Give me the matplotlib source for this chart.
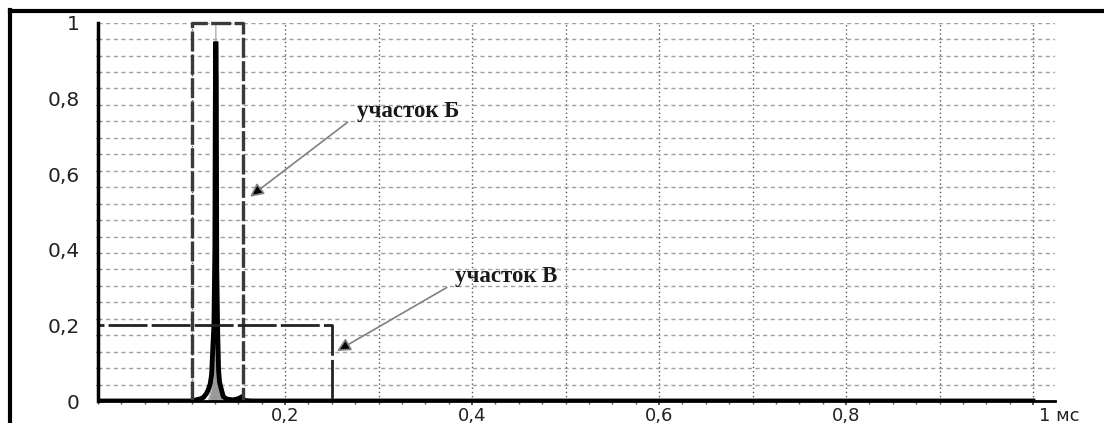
import numpy as np
import matplotlib
matplotlib.use("Agg")
import matplotlib.pyplot as plt
from matplotlib.lines import Line2D
from matplotlib.ticker import MultipleLocator, FixedLocator
import matplotlib.transforms as mtransforms

# ---- data ----
t_main = [0.000, 0.100, 0.105, 0.110, 0.113, 0.116, 0.118, 0.120, 0.1215, 0.123,
          0.124, 0.125, 0.1255, 0.126, 0.1265, 0.127, 0.128, 0.129, 0.130, 0.132,
          0.134, 0.137, 0.140, 0.145, 0.150, 0.153, 0.155, 0.158, 0.165, 1.000]
a_main = [0.000, 0.000, 0.003, 0.006, 0.010, 0.020, 0.030, 0.045, 0.070, 0.150,
          0.200, 0.400, 0.800, 0.950, 0.850, 0.350, 0.180, 0.080, 0.050, 0.030,
          0.012, 0.006, 0.004, 0.003, 0.006, 0.010, 0.004, 0.001, 0.000, 0.000]

t_env = [0.118, 0.121, 0.123, 0.125, 0.126, 0.127, 0.129, 0.131, 0.134]
a_env = [0.000, 0.030, 0.060, 0.300, 1.000, 0.300, 0.060, 0.030, 0.000]

# regions: (x0, x1, y_top)
region_B = (0.100, 0.155, 1.0)   # участок Б
region_V = (0.000, 0.250, 0.2)   # участок В

x_ticks = [0.2, 0.4, 0.6, 0.8, 1.0]
x_labels = ["0,2", "0,4", "0,6", "0,8", "1 мс"]
y_ticks = [0, 0.2, 0.4, 0.6, 0.8, 1.0]
y_labels = ["0", "0,2", "0,4", "0,6", "0,8", "1"]

label_B = "участок Б"
label_V = "участок В"

# ---- figure ----
W, H = 1104, 423
fig = plt.figure(figsize=(W / 100, H / 100), dpi=100)
fig.patch.set_facecolor("white")

left_px, right_px, top_px, bot_px = 98, 1055, 22.7, 401
ax = fig.add_axes([left_px / W, 1 - bot_px / H, (right_px - left_px) / W, (bot_px - top_px) / H])
ax.set_xlim(0, (right_px - left_px) / 935.0)
ax.set_ylim(0, 1)
ax.set_facecolor("white")

# grid
for gx in np.arange(0.1, 1.01, 0.1):
    ax.axvline(gx, color="#5a5a5a", lw=1.0, ls=(0, (1, 2)), zorder=1)
for gy in np.linspace(0, 1, 24)[1:]:
    ax.axhline(gy, color="#a0a0a0", lw=1.0, ls=(0, (3, 2.5)), zorder=1)

# signal
ax.fill_between(t_env, a_env, color="#9a9a9a", lw=0, zorder=3)
ax.plot(t_env, a_env, color="#b5b5b5", lw=1.0, zorder=3)
ax.plot(t_main, a_main, color="black", lw=3.5, zorder=4, solid_joinstyle="miter")

# region boxes
x0, x1, yt = region_B
ax.plot([x0, x0, x1, x1], [0, yt, yt, 0], color="#3a3a3a", lw=2.4,
        ls=(0, (6, 1.0)), zorder=5, clip_on=False)
x0, x1, yt = region_V
ax.plot([x0, x0, x1, x1], [0, yt, yt, 0], color="#222222", lw=2.0,
        ls=(0, (14, 1.5)), zorder=5, clip_on=False)

# annotations
arrow_kw = dict(arrowstyle="-|>", color="#808080", lw=1.2, mutation_scale=20,
                shrinkA=0, shrinkB=0, fc="black", ec="#808080")
ax.annotate("", xy=(0.1626, 0.540), xytext=(0.267, 0.737), arrowprops=arrow_kw, zorder=6)
ax.text(0.277, 0.765, label_B, fontsize=16.5, family="Liberation Serif", fontweight="bold",
        ha="left", va="center", color="#1a1a1a", zorder=6)
ax.annotate("", xy=(0.2556, 0.132), xytext=(0.373, 0.300), arrowprops=arrow_kw, zorder=6)
ax.text(0.382, 0.330, label_V, fontsize=16.5, family="Liberation Serif", fontweight="bold",
        ha="left", va="center", color="#1a1a1a", zorder=6)

# spines
for s in ["top", "right"]:
    ax.spines[s].set_visible(False)
ax.spines["left"].set_linewidth(2.5)
ax.spines["bottom"].set_linewidth(2.0)
ax.spines["left"].set_zorder(7)
ax.spines["bottom"].set_zorder(7)

ax.xaxis.set_major_locator(FixedLocator(x_ticks))
ax.set_xticklabels(x_labels)
ax.xaxis.set_minor_locator(MultipleLocator(0.025))
ax.yaxis.set_major_locator(FixedLocator(y_ticks))
ax.set_yticklabels(y_labels)
ax.yaxis.set_minor_locator(FixedLocator(list(np.linspace(0, 1, 24))))

ax.tick_params(axis="x", which="major", length=3, width=1.2, color="#333333",
               pad=1, labelsize=13, labelcolor="#222222", direction="out")
ax.tick_params(axis="x", which="minor", length=2.5, width=1.0, color="#555555", direction="out")
ax.tick_params(axis="y", which="major", length=0, pad=13, labelsize=14.5, labelcolor="#222222")
ax.tick_params(axis="y", which="minor", length=3, width=1.0, color="#333333", direction="inout")

# shift "1 мс" to the right of its tick
lbls = ax.get_xticklabels()
off = mtransforms.ScaledTranslation(6 / 100, 0, fig.dpi_scale_trans)
lbls[-1].set_horizontalalignment("left")
lbls[-1].set_transform(lbls[-1].get_transform() + off)

# outer frame
fig.add_artist(Line2D([10 / W, 1.0], [1 - 11.5 / H, 1 - 11.5 / H], transform=fig.transFigure,
                      color="black", lw=3.0))
fig.add_artist(Line2D([10 / W, 10 / W], [1 - 10 / H, 0], transform=fig.transFigure,
                      color="black", lw=3.0))

fig.savefig("out.png", dpi=100, facecolor="white")
